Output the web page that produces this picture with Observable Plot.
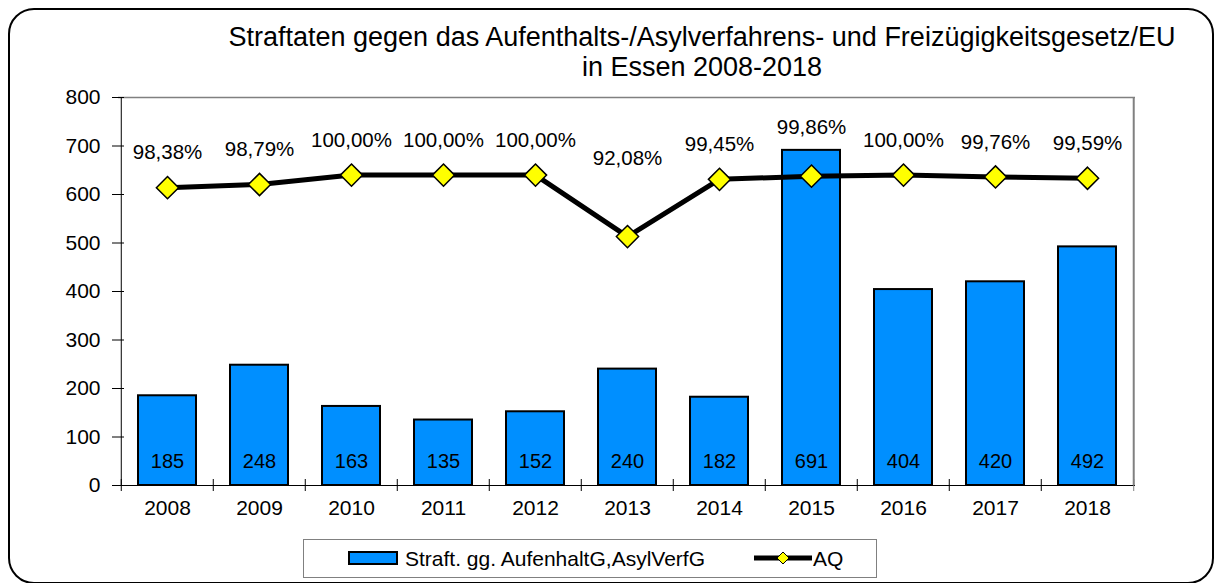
<!DOCTYPE html>
<html>
<head>
<meta charset="utf-8">
<script src="https://cdn.jsdelivr.net/npm/d3@7"></script>
<script src="https://cdn.jsdelivr.net/npm/@observablehq/plot@0.6"></script>
<style>
  body { margin: 0; background: #fff; font-family: "Liberation Sans", Arial, sans-serif; }
  #wrap { position: relative; width: 1215px; height: 583px; overflow: hidden; }
  #box { position: absolute; left: 8px; top: 8px; width: 1206px; height: 576px; border: 2px solid #000; border-radius: 26px; box-sizing: border-box; }
  #title { position: absolute; left: 202px; top: 22px; width: 1000px; text-align: center; font-size: 27px; line-height: 30px; color: #000; }
  #chart { position: absolute; left: 0; top: 80px; }
  #legend { position: absolute; left: 303px; top: 539px; width: 574px; height: 39px; border: 1px solid #808080; box-sizing: border-box; font-size: 21px; }
  #legend .sw { position: absolute; left: 44px; top: 11px; width: 50px; height: 14px; background: #008fff; border: 2px solid #000; box-sizing: border-box; }
  #legend .t1 { position: absolute; left: 101px; top: 0; line-height: 37px; }
  #legend svg { position: absolute; left: 449px; top: 8px; }
  #legend .t2 { position: absolute; left: 509px; top: 0; line-height: 37px; }
</style>
</head>
<body>
<div id="wrap">
  <div id="box"></div>
  <div id="title">Straftaten gegen das Aufenthalts-/Asylverfahrens- und Freizügigkeitsgesetz/EU<br>in Essen 2008-2018</div>
  <div id="chart"></div>
  <div id="legend">
    <span class="sw"></span><span class="t1">Straft. gg. AufenhaltG,AsylVerfG</span>
    <svg width="60" height="20"><line x1="1" y1="10" x2="59" y2="10" stroke="#000" stroke-width="5"/><path d="M30,4 L36,10 L30,16 L24,10 Z" fill="#ffff00" stroke="#000" stroke-width="1"/></svg>
    <span class="t2">AQ</span>
  </div>
</div>
<script>
const years = ["2008","2009","2010","2011","2012","2013","2014","2015","2016","2017","2018"];
const counts = [185, 248, 163, 135, 152, 240, 182, 691, 404, 420, 492];
const aq = [98.38, 98.79, 100.00, 100.00, 100.00, 92.08, 99.45, 99.86, 100.00, 99.76, 99.59];
const yTicks = [0, 100, 200, 300, 400, 500, 600, 700, 800];
const aqAxisDomain = [60, 110]; // hidden secondary axis (%)

const data = years.map((y, i) => ({year: y, count: counts[i], aq: aq[i]}));
const toPrimary = d3.scaleLinear(aqAxisDomain, [0, 800]);
const fmtPct = v => v.toFixed(2).replace(".", ",") + "%";

const W = 1215, H = 450, mL = 118, mR = 80, mT = 17, mB = 45;
const plotW = W - mL - mR, plotH = H - mT - mB;
const step = plotW / years.length;
const labelDy = {"2013": -78, "2015": -49};

const chart = Plot.plot({
  width: W, height: H,
  marginLeft: mL, marginRight: mR, marginTop: mT, marginBottom: mB,
  style: {fontFamily: "'Liberation Sans', Arial, sans-serif", fontSize: "20px", color: "#000", background: "transparent"},
  x: {type: "band", domain: years, paddingInner: 0.37, paddingOuter: 0.185, axis: null},
  y: {domain: [0, 800], axis: null},
  marks: [
    Plot.ruleY([800], {stroke: "#808080", strokeWidth: 1.5}),
    Plot.ruleX([years[years.length - 1]], {dx: step / 2, stroke: "#808080", strokeWidth: 2}),
    Plot.barY(data, {x: "year", y: "count", fill: "#008fff", stroke: "#000", strokeWidth: 2}),
    Plot.ruleY([0], {stroke: "#000", strokeWidth: 1}),
    Plot.ruleX([years[0]], {dx: -step / 2, stroke: "#000", strokeWidth: 1}),
    Plot.ruleY(yTicks, {y: d => d, insetLeft: -6, insetRight: plotW - 6, stroke: "#000"}),
    Plot.ruleX(years, {x: d => d, dx: -step / 2, insetTop: plotH - 6, insetBottom: -6, stroke: "#000"}),
    Plot.ruleX([years[years.length - 1]], {x: d => d, dx: step / 2, insetTop: plotH - 6, insetBottom: -6, stroke: "#808080"}),
    Plot.axisY({ticks: yTicks, tickSize: 0, tickPadding: 18, tickFormat: d => String(d), fontSize: 21, label: null}),
    Plot.text(years, {x: d => d, y: 0, dy: 23, text: d => d, fontSize: 21, lineAnchor: "middle", fill: "#000"}),
    Plot.text(data, {x: "year", y: 0, dy: -24, text: d => String(d.count), fontSize: 20, lineAnchor: "middle", fill: "#000"}),
    Plot.line(data, {x: "year", y: d => toPrimary(d.aq), stroke: "#000", strokeWidth: 5}),
    Plot.dot(data, {x: "year", y: d => toPrimary(d.aq), symbol: "diamond2", r: 10, fill: "#ffff00", stroke: "#000", strokeWidth: 1.5}),
    ...data.map(d => Plot.text([d], {x: "year", y: v => toPrimary(v.aq), dy: labelDy[d.year] ?? -35, text: v => fmtPct(v.aq), fontSize: 20.5, lineAnchor: "middle", fill: "#000"}))
  ]
});
document.getElementById("chart").appendChild(chart);
</script>
</body>
</html>
